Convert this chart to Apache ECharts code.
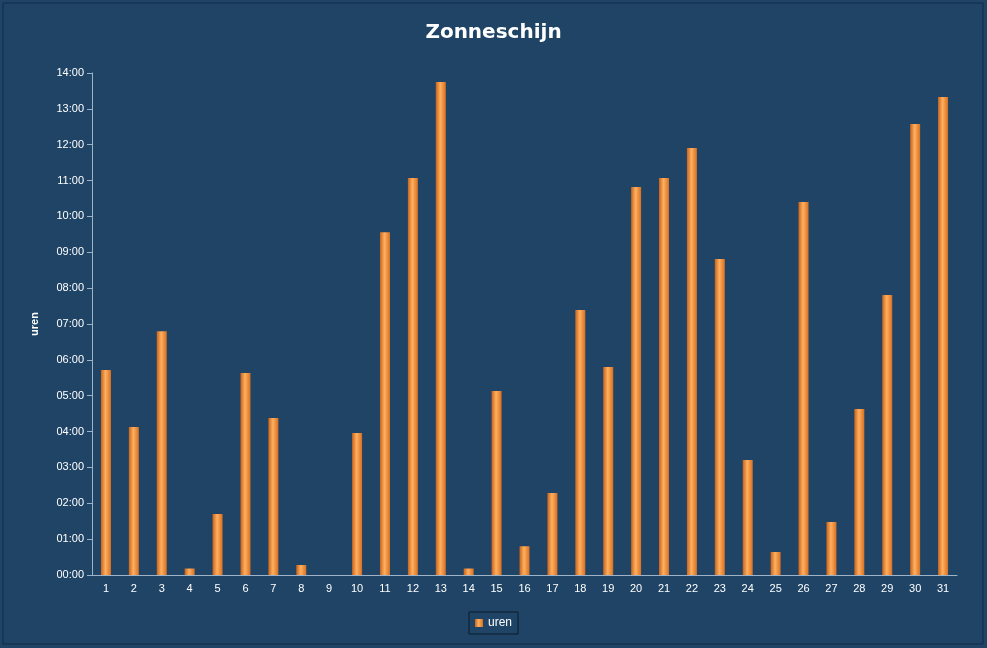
<!DOCTYPE html>
<html><head><meta charset="utf-8">
<script src="https://cdn.jsdelivr.net/npm/echarts@6/dist/echarts.min.js"></script>
<style>html,body{margin:0;padding:0;background:#fff}#c{width:987px;height:648px}</style>
</head><body><div id="c"></div>
<script>
const days = ['1','2','3','4','5','6','7','8','9','10','11','12','13','14','15','16','17','18','19','20','21','22','23','24','25','26','27','28','29','30','31'];
const uren = [5.72,4.13,6.80,0.18,1.70,5.63,4.38,0.28,0,3.96,9.56,11.07,13.75,0.18,5.13,0.8,2.29,7.39,5.80,10.82,11.07,11.91,8.81,3.21,0.64,10.40,1.48,4.63,7.81,12.58,13.33];
const title = 'Zonneschijn';
const seriesName = 'uren';
function hhmm(v){const h=Math.floor(v+1e-9);const m=Math.round((v-h)*60);return String(h).padStart(2,'0')+':'+String(m).padStart(2,'0');}
const chart = echarts.init(document.getElementById('c'));
chart.setOption({
  backgroundColor:'#1f4466',
  graphic:[{type:'rect',shape:{x:3,y:3,width:980,height:641},style:{fill:'none',stroke:'#0f2a44',lineWidth:1}}],
  title:{text:title,left:'center',top:18,textStyle:{color:'#fff',fontSize:20,fontWeight:'bold',fontFamily:'DejaVu Sans'}},
  legend:{bottom:14,left:'center',itemWidth:8,itemHeight:8,padding:[5,6],borderColor:'#0a1a2a',borderWidth:1,textStyle:{color:'#fff',fontSize:12},data:[{name:seriesName,icon:'rect'}]},
  grid:{left:92,right:30,top:73,bottom:73},
  xAxis:{type:'category',data:days,axisLine:{lineStyle:{color:'#9fb3c8'}},axisTick:{show:false},axisLabel:{color:'#fff',fontSize:11}},
  yAxis:{type:'value',min:0,max:14,interval:1,name:'uren',nameLocation:'middle',nameGap:52,nameTextStyle:{color:'#fff',fontWeight:'bold',fontSize:11},
    axisLine:{show:true,lineStyle:{color:'#9fb3c8'}},axisTick:{show:true,lineStyle:{color:'#9fb3c8'}},splitLine:{show:false},
    axisLabel:{color:'#fff',fontSize:11,formatter:hhmm}},
  series:[{name:seriesName,type:'bar',data:uren,barWidth:10,
    itemStyle:{color:new echarts.graphic.LinearGradient(0,0,1,0,[{offset:0,color:'#c8641c'},{offset:0.45,color:'#ffb060'},{offset:1,color:'#d87020'}])}}]
});
</script></body></html>
